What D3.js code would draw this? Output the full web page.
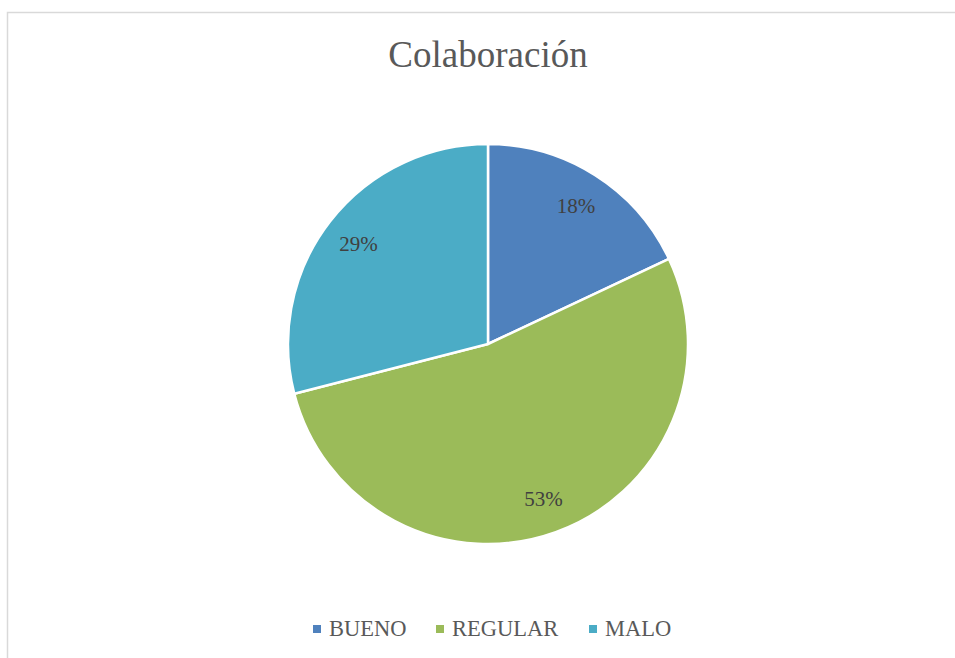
<!DOCTYPE html>
<html><head><meta charset="utf-8">
<script src="https://cdn.jsdelivr.net/npm/d3@7"></script>
<style>body{margin:0;background:#fff}svg{display:block}</style>
</head><body>
<script>
const title = "Colaboración";
const categories = ["BUENO", "REGULAR", "MALO"];
const values = [18, 53, 29];
const colors = ["#4f81bd", "#9bbb59", "#4bacc6"];

const W = 955, H = 658;
const svg = d3.select("body").append("svg").attr("width", W).attr("height", H);
svg.append("rect").attr("x", 7.5).attr("y", 12.5).attr("width", W + 20).attr("height", H + 20)
  .attr("fill", "#fff").attr("stroke", "#d9d9d9").attr("stroke-width", 1.5);

const font = '"Liberation Serif"';
svg.append("text").attr("x", 488).attr("y", 67).attr("text-anchor", "middle")
  .style("font-family", font).style("font-size", "37px").attr("fill", "#595959").text(title);

const cx = 488, cy = 344, R = 200;
const pie = d3.pie().sort(null).value(d => d)(values);
const arc = d3.arc().innerRadius(0).outerRadius(R);
const g = svg.append("g").attr("transform", `translate(${cx},${cy})`);
g.selectAll("path").data(pie).join("path").attr("d", arc)
  .attr("fill", (d, i) => colors[i]).attr("stroke", "#fff").attr("stroke-width", 2.5).attr("stroke-linejoin", "round");
const labelArc = d3.arc().innerRadius(R * 0.82).outerRadius(R * 0.82);
const fmt = d3.format(".0%");
const total = d3.sum(values);
g.selectAll("text").data(pie).join("text")
  .attr("transform", d => `translate(${labelArc.centroid(d)})`)
  .attr("text-anchor", "middle").attr("dy", "0.35em")
  .style("font-family", font).style("font-size", "21px").attr("fill", "#404040")
  .text(d => fmt(d.value / total));

// legend
const legend = svg.append("g");
const xs = [313, 436, 589];
categories.forEach((c, i) => {
  const it = legend.append("g").attr("transform", `translate(${xs[i]},629)`);
  it.append("rect").attr("x", 0).attr("y", -4).attr("width", 8).attr("height", 8).attr("fill", colors[i]);
  it.append("text").attr("x", 16).attr("y", 7)
    .style("font-family", font).style("font-size", "22.5px").attr("fill", "#595959").text(c);
});
</script>
</body></html>
